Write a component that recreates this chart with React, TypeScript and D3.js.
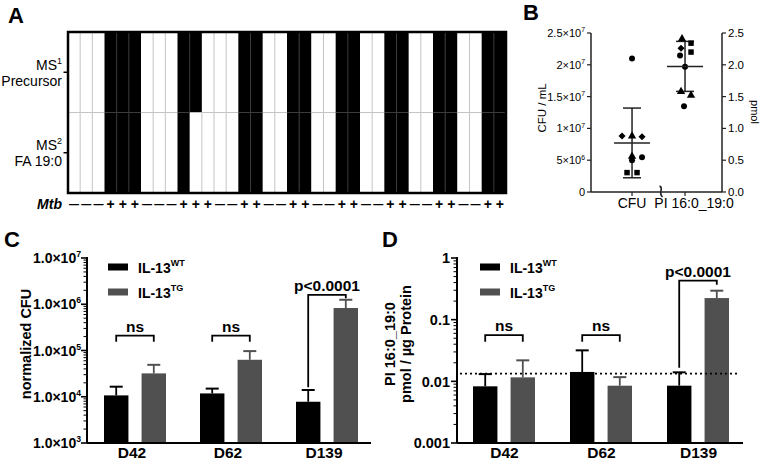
import React from 'react';
import * as d3 from 'd3';

const FONT = "'Liberation Sans', Arial, Helvetica, sans-serif";

// ---------- Panel A data ----------
const mtbStatus = ['-','-','-','+','+','+','-','-','-','+','+','+','-','-','+','+','-','-','+','+','-','-','+','+','-','-','+','+','-','-','+','+','-','-','+','+'];
const ms1Signal = [0,0,0,1,1,1,0,0,0,1,1,0,0,0,1,1,0,0,1,1,0,0,1,1,0,0,1,1,0,0,1,1,0,0,1,1];
const ms2Signal = [0,0,0,1,1,1,0,0,0,1,0,0,0,0,1,1,0,0,1,1,0,0,1,1,0,0,1,1,0,0,1,1,0,0,1,1];
const heatRowTitles = ['MS', 'MS'];
const heatRowSups = ['1', '2'];
const heatRowSubtitles = ['Precursor', 'FA 19:0'];

// ---------- Panel B data ----------
const bCategories = ['CFU', 'PI 16:0_19:0'];
const cfuValues = [2.1e7, 8.8e6, 8.8e6, 8.7e6, 5.6e6, 5.45e6, 5.0e6, 3.05e6, 3.05e6];
const cfuShapes = ['circle','diamond','triangle','diamond','triangle','circle','circle','square','square'];
const cfuJitter = [0, -1, 0, 1, 0, 1, 0, -0.5, 0.5];
const piValues = [2.41, 2.34, 2.26, 2.20, 2.145, 1.97, 1.58, 1.52, 1.35];
const piShapes = ['triangle','square','diamond','square','circle','circle','triangle','triangle','circle'];
const piJitter = [-0.3, 0.6, -0.4, 0.6, -0.5, 0, -0.4, 0.6, -0.1];
const bLeftTicks = [0, 5e6, 1e7, 1.5e7, 2e7, 2.5e7];
const bRightTicks = [0, 0.5, 1.0, 1.5, 2.0, 2.5];

// ---------- Panels C / D data ----------
const days = ['D42', 'D62', 'D139'];
const genotypes = ['WT', 'TG'];
const cfuMeanWT = [1.07e4, 1.18e4, 7.8e3];
const cfuUpperWT = [1.65e4, 1.5e4, 1.4e4];
const cfuMeanTG = [3.2e4, 6.3e4, 8.3e5];
const cfuUpperTG = [4.9e4, 9.7e4, 1.25e6];
const piMeanWT = [0.0083, 0.0142, 0.0085];
const piUpperWT = [0.0131, 0.0318, 0.014];
const piMeanTG = [0.0116, 0.0085, 0.224];
const piUpperTG = [0.0219, 0.0117, 0.295];
const piDetectionLimit = 0.0133;
const cTickValues = [1e3, 1e4, 1e5, 1e6, 1e7];
const dTickValues = [0.001, 0.01, 0.1, 1];
const dTickLabels = ['0.001', '0.01', '0.1', '1'];
const cBrackets = [
  { day: 'D42', label: 'ns', level: 2.1e5, leftEnd: 1.55e5, rightEnd: 1.55e5 },
  { day: 'D62', label: 'ns', level: 2.1e5, leftEnd: 1.55e5, rightEnd: 1.55e5 },
  { day: 'D139', label: 'p<0.0001', level: 1.6e6, leftEnd: 1.6e4, rightEnd: 1.35e6 },
];
const dBrackets = [
  { day: 'D42', label: 'ns', level: 0.056, leftEnd: 0.044, rightEnd: 0.044 },
  { day: 'D62', label: 'ns', level: 0.056, leftEnd: 0.044, rightEnd: 0.044 },
  { day: 'D139', label: 'p<0.0001', level: 0.43, leftEnd: 0.0166, rightEnd: 0.37 },
];

const GREY = '#505050';

const symbolTypes: Record<string, any> = {
  circle: d3.symbolCircle,
  square: d3.symbolSquare,
  diamond: (d3 as any).symbolDiamond2 || d3.symbolDiamond,
  triangle: d3.symbolTriangle,
};
const symbolSizes: Record<string, number> = { circle: 28, square: 30, diamond: 32, triangle: 30 };

function PanelA() {
  const x = d3.scaleBand<number>().domain(d3.range(mtbStatus.length)).range([68, 506]);
  const y = d3.scaleBand<number>().domain([0, 1]).range([32, 193]);
  const sig = [ms1Signal, ms2Signal];
  const bw = x.bandwidth();
  const lines: JSX.Element[] = [];
  for (let r = 0; r < 2; r++) {
    for (let i = 1; i < mtbStatus.length; i++) {
      const a = sig[r][i - 1], b = sig[r][i];
      if (a !== b) continue;
      lines.push(<line key={`v${r}-${i}`} x1={x(i)} x2={x(i)} y1={y(r)} y2={(y(r) as number) + y.bandwidth()}
        stroke={a ? '#3c3c3c' : '#c4c4c4'} strokeWidth={1} />);
    }
  }
  for (let i = 0; i < mtbStatus.length; i++) {
    const a = sig[0][i], b = sig[1][i];
    if (a !== b) continue;
    lines.push(<line key={`h${i}`} x1={x(i)} x2={(x(i) as number) + bw} y1={y(1)} y2={y(1)}
      stroke={a ? '#3c3c3c' : '#c4c4c4'} strokeWidth={1} />);
  }
  return (
    <g>
      <text x={8} y={23} fontSize={22} fontWeight="bold" fontFamily={FONT}>A</text>
      {sig.map((row, r) => row.map((v, i) => (
        <rect key={`c${r}-${i}`} x={x(i)} y={y(r)} width={bw + 0.3} height={y.bandwidth()} fill={v ? '#000' : '#fff'} />
      )))}
      {lines}
      <rect x={68} y={32} width={438} height={161} fill="none" stroke="#000" strokeWidth={2.5} />
      {[0, 1].map(r => {
        const cy = (y(r) as number) + y.bandwidth() / 2;
        return (
          <g key={`lab${r}`}>
            <line x1={63.5} x2={68} y1={cy} y2={cy} stroke="#000" strokeWidth={1.5} />
            <text x={62} y={cy - 2.5} textAnchor="end" fontSize={14} fontFamily={FONT}>
              {heatRowTitles[r]}<tspan fontSize={9} dy={-6}>{heatRowSups[r]}</tspan>
            </text>
            <text x={62} y={cy + 13.5} textAnchor="end" fontSize={14} fontFamily={FONT}>{heatRowSubtitles[r]}</text>
          </g>
        );
      })}
      <text x={62} y={209} textAnchor="end" fontSize={14} fontWeight="bold" fontStyle="italic" fontFamily={FONT}>Mtb</text>
      {mtbStatus.map((s, i) => (
        <text key={`m${i}`} x={(x(i) as number) + bw / 2} y={s === '+' ? 209 : 207.5} textAnchor="middle"
          fontSize={s === '+' ? 14 : 10} fontWeight="bold" fontFamily={FONT}>{s === '+' ? '+' : '—'}</text>
      ))}
    </g>
  );
}

function SciLabel({ v, x, y, anchor, size, weight, fixed }: any) {
  if (v === 0) return <text x={x} y={y} textAnchor={anchor} fontSize={size} fontWeight={weight} fontFamily={FONT} dominantBaseline="central">0</text>;
  const e = Math.floor(Math.log10(v) + 1e-9);
  const m = v / Math.pow(10, e);
  const ms = fixed ? m.toFixed(1) : d3.format('~g')(+m.toFixed(2));
  return (
    <text x={x} y={y + size * 0.36} textAnchor={anchor} fontSize={size} fontWeight={weight} fontFamily={FONT}>
      {ms}×10<tspan fontSize={size * 0.62} dy={-size * 0.42}>{e}</tspan>
    </text>
  );
}

function PanelB() {
  const yL = d3.scaleLinear().domain([0, 2.5e7]).range([192, 33]);
  const yR = d3.scaleLinear().domain([0, 2.5]).range([192, 33]);
  const x = d3.scalePoint<string>().domain(bCategories).range([591, 722]).padding(0.736).align(0.526);
  const jit = 10;
  const groups = [
    { cat: bCategories[0], vals: cfuValues, shapes: cfuShapes, jitter: cfuJitter, y: yL },
    { cat: bCategories[1], vals: piValues, shapes: piShapes, jitter: piJitter, y: yR },
  ];
  const x0 = x(bCategories[0]) as number, x1 = x(bCategories[1]) as number;
  const bx = (x0 + x1) / 2 + 3;
  return (
    <g fontFamily={FONT}>
      <text x={523} y={20} fontSize={22} fontWeight="bold">B</text>
      <line x1={591} x2={591} y1={33} y2={192} stroke="#222" strokeWidth={1.5} />
      <line x1={722} x2={722} y1={33} y2={192} stroke="#222" strokeWidth={1.5} />
      <line x1={591} x2={722} y1={192} y2={192} stroke="#222" strokeWidth={1.5} />
      {bLeftTicks.map(t => (
        <g key={`l${t}`}>
          <line x1={587} x2={591} y1={yL(t)} y2={yL(t)} stroke="#222" strokeWidth={1.2} />
          <SciLabel v={t} x={585} y={yL(t)} anchor="end" size={11} weight="normal" />
        </g>
      ))}
      {bRightTicks.map(t => (
        <g key={`r${t}`}>
          <line x1={722} x2={726} y1={yR(t)} y2={yR(t)} stroke="#222" strokeWidth={1.2} />
          <text x={728} y={yR(t)} dominantBaseline="central" fontSize={11.5}>{t.toFixed(1)}</text>
        </g>
      ))}
      {bCategories.map(c => (
        <g key={c}>
          <line x1={x(c)} x2={x(c)} y1={192} y2={196} stroke="#222" strokeWidth={1.2} />
          <text x={(x(c) as number) + (c === 'CFU' ? 0 : 9)} y={208} textAnchor="middle" fontSize={14}>{c}</text>
        </g>
      ))}
      <path d={`M${bx - 2},${186} C${bx + 3},${188} ${bx - 4},${193} ${bx + 1},${197}`} fill="none" stroke="#222" strokeWidth={1.6} />
      <text transform="translate(546,108) rotate(-90)" textAnchor="middle" fontSize={11.5}>CFU / mL</text>
      <text transform="translate(751,112) rotate(90)" textAnchor="middle" fontSize={11}>pmol</text>
      {groups.map((g, gi) => {
        const cx = x(g.cat) as number;
        const mean = d3.mean(g.vals) as number;
        const sd = d3.deviation(g.vals) as number;
        return (
          <g key={`g${gi}`}>
            <line x1={cx} x2={cx} y1={g.y(mean + sd)} y2={g.y(mean - sd)} stroke="#222" strokeWidth={1.5} />
            <line x1={cx - 9} x2={cx + 9} y1={g.y(mean + sd)} y2={g.y(mean + sd)} stroke="#222" strokeWidth={1.5} />
            <line x1={cx - 9} x2={cx + 9} y1={g.y(mean - sd)} y2={g.y(mean - sd)} stroke="#222" strokeWidth={1.5} />
            {g.vals.map((v, i) => (
              <path key={i} transform={`translate(${cx + g.jitter[i] * jit},${g.y(v)})`}
                d={d3.symbol().type(symbolTypes[g.shapes[i]]).size(symbolSizes[g.shapes[i]])() as string} fill="#000" />
            ))}
            <line x1={cx - 18} x2={cx + 18} y1={g.y(mean)} y2={g.y(mean)} stroke="#222" strokeWidth={1.5} />
          </g>
        );
      })}
    </g>
  );
}

function BarPanel({ letter, letterX, axisX, xRange, y, ticks, tickLabel, meansWT, uppersWT, meansTG, uppersTG,
  brackets, legendX, titleLines, titleX, dotted, bottomY, labelShift }: any) {
  const xb = d3.scaleBand<string>().domain(days).range(xRange);
  const xi = d3.scaleBand<string>().domain(genotypes).range([17, 79]).paddingInner(0.35);
  const [d0, d1] = y.domain();
  const minor: number[] = [];
  for (let e = Math.round(Math.log10(d0)); e < Math.round(Math.log10(d1)); e++) {
    for (let k = 2; k <= 9; k++) minor.push(k * Math.pow(10, e));
  }
  const cx = (day: string, gt: string) => (xb(day) as number) + (xi(gt) as number) + xi.bandwidth() / 2;
  const series = [
    { gt: 'WT', means: meansWT, uppers: uppersWT, color: '#000' },
    { gt: 'TG', means: meansTG, uppers: uppersTG, color: GREY },
  ];
  const top = y.range()[1];
  return (
    <g fontFamily={FONT}>
      <text x={letterX} y={247} fontSize={22} fontWeight="bold">{letter}</text>
      {series.map(s => days.map((d, i) => {
        const bx = (xb(d) as number) + (xi(s.gt) as number);
        const c = cx(d, s.gt);
        return (
          <g key={`${s.gt}${d}`}>
            <line x1={c} x2={c} y1={y(s.means[i])} y2={y(s.uppers[i])} stroke={s.color} strokeWidth={1.8} />
            <line x1={c - 6.5} x2={c + 6.5} y1={y(s.uppers[i])} y2={y(s.uppers[i])} stroke={s.color} strokeWidth={2} />
            <rect x={bx} y={y(s.means[i])} width={xi.bandwidth()} height={bottomY - y(s.means[i])} fill={s.color} />
          </g>
        );
      }))}
      {dotted !== undefined && (
        <line x1={axisX + 3} x2={xRange[1] - 9} y1={y(dotted)} y2={y(dotted)} stroke="#000" strokeWidth={1.8} strokeDasharray="2 3" />
      )}
      <line x1={axisX} x2={axisX} y1={top - 1} y2={bottomY} stroke="#000" strokeWidth={2} />
      <line x1={axisX} x2={xRange[1] - 4} y1={bottomY} y2={bottomY} stroke="#000" strokeWidth={2} />
      {minor.map(m => (
        <line key={`mn${m}`} x1={axisX - 3.5} x2={axisX} y1={y(m)} y2={y(m)} stroke="#000" strokeWidth={1} />
      ))}
      {ticks.map((t: number, i: number) => (
        <g key={`t${t}`}>
          <line x1={axisX - 6} x2={axisX} y1={y(t)} y2={y(t)} stroke="#000" strokeWidth={1.6} />
          {tickLabel ? (
            <text x={axisX - 7} y={y(t) + 5.2} textAnchor="end" fontSize={14.5} fontWeight="bold">{tickLabel[i]}</text>
          ) : (
            <SciLabel v={t} x={axisX - 6} y={y(t)} anchor="end" size={14} weight="bold" fixed />
          )}
        </g>
      ))}
      {days.map(d => (
        <text key={d} x={(xb(d) as number) + xb.bandwidth() / 2 + labelShift} y={458} textAnchor="middle" fontSize={15.5} fontWeight="bold">{d}</text>
      ))}
      {titleLines.map((t: string, i: number) => (
        <text key={t} transform={`translate(${titleX[i]},344) rotate(-90)`} textAnchor="middle" fontSize={14.5} fontWeight="bold">{t}</text>
      ))}
      {series.map((s, i) => (
        <g key={`lg${s.gt}`}>
          <rect x={legendX} y={263.5 + i * 25} width={20} height={7} fill={s.color} />
          <text x={legendX + 30} y={272.5 + i * 25} fontSize={14} fontWeight="bold">
            IL-13<tspan fontSize={9} dy={-6.5}>{s.gt}</tspan>
          </text>
        </g>
      ))}
      {brackets.map((b: any) => {
        const xl = cx(b.day, 'WT'), xr = cx(b.day, 'TG');
        const yl = y(b.level);
        return (
          <g key={`br${b.day}`}>
            <path d={`M${xl},${y(b.leftEnd)} V${yl} H${xr} V${y(b.rightEnd)}`} fill="none" stroke="#000" strokeWidth={1.8} />
            <text x={(xl + xr) / 2} y={yl - 4} textAnchor="middle" fontSize={15.5} fontWeight="bold">{b.label}</text>
          </g>
        );
      })}
    </g>
  );
}

export default function App() {
  const yC = d3.scaleLog().domain([1e3, 1e7]).range([443, 258]);
  const yD = d3.scaleLog().domain([0.001, 1]).range([443, 258]);
  return (
    <svg width={762} height={465} viewBox="0 0 762 465" style={{ position: 'absolute', left: 0, top: 0, background: '#fff' }}>
      <rect x={0} y={0} width={762} height={465} fill="#fff" />
      <PanelA />
      <PanelB />
      <BarPanel letter="C" letterX={4} axisX={87} xRange={[87, 375]} y={yC} ticks={cTickValues}
        meansWT={cfuMeanWT} uppersWT={cfuUpperWT} meansTG={cfuMeanTG} uppersTG={cfuUpperTG}
        brackets={cBrackets} legendX={108} titleLines={['normalized CFU']} titleX={[31]} bottomY={443} labelShift={-3} />
      <BarPanel letter="D" letterX={382} axisX={457} xRange={[456, 747]} y={yD} ticks={dTickValues} tickLabel={dTickLabels}
        meansWT={piMeanWT} uppersWT={piUpperWT} meansTG={piMeanTG} uppersTG={piUpperTG}
        brackets={dBrackets} legendX={480} titleLines={['PI 16:0_19:0', 'pmol / µg Protein']} titleX={[395, 411]}
        dotted={piDetectionLimit} bottomY={443} labelShift={0} />
    </svg>
  );
}
